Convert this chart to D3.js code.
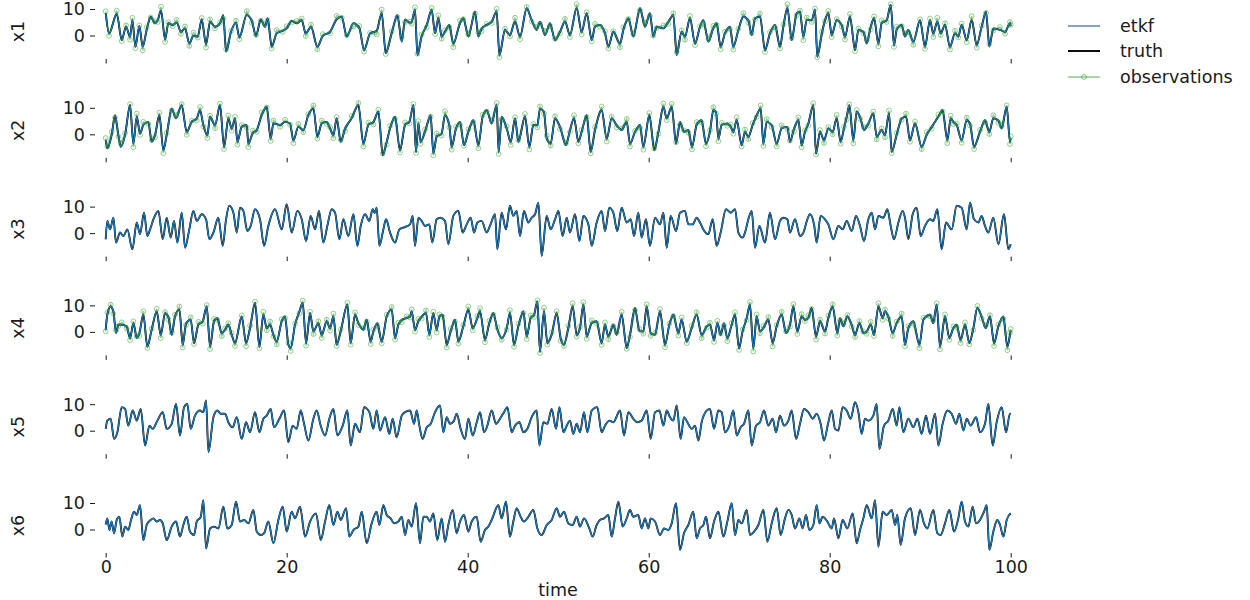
<!DOCTYPE html>
<html><head><meta charset="utf-8">
<script src="https://cdn.jsdelivr.net/npm/d3@7"></script>
<style>
body{margin:0;background:#fff}
svg{display:block}
text{font-family:"DejaVu Sans",sans-serif}
</style>
</head><body>
<svg id="chart" width="1250" height="600"></svg>
<script>
const variables = ["x1","x2","x3","x4","x5","x6"];
const observed = ["x1","x2","x4"];
const xTicks = [0,20,40,60,80,100];
const yTicks = [0,10];
const legendLabels = ["etkf","truth","observations"];
const xLabel = "time";

// observed variables: [time, truth, observation]
const x1Data = [[0,8.4,9.1],[0.37,0.8,-0.1],[1.22,8.1,9.4],[1.77,-1.7,-2.1],[2.25,3.3,3.8],[2.69,-0.4,-1.6],[2.95,5.8,6.7],[3.28,-4.2,-4.8],[3.72,3.6,3.8],[4.09,-4.2,-5.6],
[4.53,2.1,3.1],[4.97,7.1,6.8],[5.45,4.6,5.4],[5.75,5.8,5.1],[6.11,9.4,10.9],[6.56,-1.4,-2.4],[6.92,4.6,5.0],[7.40,4.0,3.5],[7.85,4.8,5.9],[8.32,1.4,0.6],
[8.77,2.7,3.4],[9.24,-3.0,-3.9],[9.69,-0.2,1.1],[10.17,-0.4,-0.8],[10.61,6.1,6.6],[11.09,-3.3,-4.5],[11.53,5.2,6.1],[12.08,3.3,2.7],[12.63,4.6,4.8],[13.0,7.7,6.3],
[13.30,-6.1,-5.1],[13.85,1.4,1.7],[14.40,4.8,5.6],[14.77,-0.7,-1.4],[15.58,7.7,9.2],[16.13,5.8,4.8],[16.61,-0.2,0.2],[17.13,6.1,5.6],[17.61,3.3,4.4],[17.90,6.5,5.7],
[18.34,-4.2,-4.9],[18.90,0.8,2.1],[19.56,1.8,1.4],[20.0,2.7,3.5],[20.55,5.6,4.9],[21.10,4.6,5.5],[21.66,5.8,6.4],[22.10,0.8,-0.2],[22.69,3.3,4.1],[23.39,-4.2,-5.2],
[23.98,-0.2,0.5],[24.79,1.4,0.9],[25.53,6.1,7.4],[26.08,7.1,6.7],[26.63,-0.4,0.1],[27.37,4.6,3.4],[28.03,2.7,3.6],[28.55,-5.5,-6.1],[29.21,0.8,1.0],[29.94,1.8,0.4],
[30.50,8.4,9.8],[30.94,-6.7,-7.0],[31.60,0.8,1.6],[32.23,7.7,7.0],[32.71,-2.3,-0.8],[33.08,6.1,5.1],[33.63,4.8,5.2],
[33.81,5.2,4.5],[34.18,9.6,10.6],[34.44,-7.4,-6.9],[34.91,-0.4,0.4],[35.47,4.0,3.1],[36.02,9.6,10.4],[36.39,0.8,0.5],[36.76,6.5,7.6],[37.12,-0.4,-1.2],[37.49,1.4,2.0],
[37.97,4.0,3.2],[38.41,-3.0,-4.4],[39.15,4.6,5.6],[39.52,6.5,6.2],[40.07,-0.4,0.4],[40.81,9.0,8.3],[41.18,-0.4,1.1],[41.54,2.7,1.7],[42.10,4.0,4.4],[42.65,5.2,4.7],
[43.20,9.0,10.1],[43.50,-7.4,-8.2],[44.12,2.1,2.5],[44.67,0.2,-0.3],[45.23,5.2,6.7],[45.78,-0.4,-1.4],[46.52,10.3,10.7],[47.07,5.8,5.3],[47.62,2.1,3.2],[47.99,5.2,4.4],
[48.54,0.2,1.7],[49.09,4.6,3.6],[49.65,-1.7,-1.3],[50.20,1.4,0.9],[50.75,5.2,6.3],[51.30,0.2,-0.6],[52.04,10.3,11.8],[52.59,1.4,0.4],[53.15,8.4,8.8],[53.70,-1.7,-2.2],
[54.07,3.3,4.4],[54.62,4.0,3.3],[55.17,0.8,1.6],[55.54,-4.2,-4.9],[56.09,1.4,1.6],[56.83,-3.0,-4.4],[57.20,2.1,3.1],[57.75,6.5,6.2],[58.30,-0.4,0.4],[59.04,10.3,9.6],
[59.59,3.3,4.8],[60.14,8.4,7.4],[60.51,-0.4,0.0],[60.88,3.3,2.8],[61.62,2.7,3.8],[62.17,5.2,4.4],[62.72,7.7,8.4],[63.09,-7.4,-6.2],[63.64,1.4,1.9],[64.01,-0.4,-1.6],
[64.56,6.5,7.4],[65.12,-3.0,-3.6],[65.67,3.3,3.5],[66.04,5.8,4.4],[66.59,-2.3,-1.3],
[67.14,2.7,3.6],[67.51,4.6,4.0],[67.95,-4.2,-5.2],[68.43,0.8,1.4],[68.98,3.3,2.4],[69.35,-4.2,-5.3],[69.91,2.1,2.5],[70.46,7.1,8.4],[71.01,5.8,4.9],[71.38,0.2,0.9],
[71.75,6.5,6.1],[72.30,7.1,8.3],[72.85,-5.5,-6.2],[73.40,0.8,1.3],[73.96,4.0,3.0],[74.51,-4.2,-4.9],[74.88,3.3,4.2],[75.32,10.3,11.8],[75.80,-1.7,-1.0],[76.35,8.4,7.6],
[76.72,9.0,9.4],[77.09,-0.4,-1.8],[77.46,5.8,6.8],[78.01,5.8,5.1],[78.38,9.6,10.2],[78.63,-8.0,-8.2],[79.11,0.2,1.4],[79.48,5.8,5.3],[79.85,8.4,9.3],[80.22,0.2,-0.6],
[80.77,5.8,6.2],[81.32,4.0,3.4],[81.69,-0.4,-1.5],[82.24,7.1,8.1],[82.80,-5.5,-5.9],[83.17,2.1,2.6],[83.72,1.4,0.9],[84.09,-3.0,-1.6],[84.53,3.3,2.3],[84.90,6.5,7.2],
[85.38,-3.0,-4.1],[85.74,4.6,5.7],[86.30,5.8,5.1],[86.74,11.5,11.8],[87.11,-3.6,-4.3],[87.40,2.1,3.3],[87.95,4.0,3.5],[88.32,-0.4,0.8],[88.69,2.1,1.2],[89.24,-2.3,-3.5],
[89.98,5.8,6.1],[90.53,-4.2,-5.0],[91.08,5.8,6.4],[91.45,0.8,-0.6],[91.89,5.2,6.7],[92.26,0.8,0.2],[92.74,4.0,4.6],[93.29,-4.2,-5.3],[93.85,0.8,1.8],[94.21,-0.4,-0.7],
[94.58,4.0,4.5],[95.14,-1.7,-2.5],[95.69,5.8,7.3],[96.24,-3.6,-4.6],[96.79,3.3,3.7],[97.27,9.0,8.5],[97.64,-4.2,-3.1],[98.08,2.7,1.9],[98.82,2.1,3.2],[99.37,1.4,0.7],
[99.92,4.6,5.1],[100,3.5,4.0]];

const x2Data = [[0,-2.2,-1.4],[0.18,-5.3,-4.6],[0.66,-0.3,0.9],[1.03,7.2,6.3],[1.40,-0.3,-0.9],[1.66,-4.7,-3.4],[2.14,-0.3,0.4],[2.69,11.0,11.4],[3.06,-3.5,-4.9],[3.43,6.6,7.8],
[3.79,0.3,-0.2],[4.16,3.5,4.7],[4.71,4.7,3.9],[5.08,-2.8,-2.1],[5.45,-0.3,-1.1],[5.93,7.2,8.2],[6.37,-6.0,-7.1],[6.74,-0.3,0.5],[7.29,9.7,9.0],[7.77,6.0,7.2],
[8.40,11.0,11.4],[8.95,0.9,-0.2],[9.50,4.7,5.1],[10.06,6.0,5.2],[10.42,9.1,10.3],[10.79,3.5,2.9],[11.23,-0.3,-1.4],[11.53,6.6,7.0],[12.08,3.5,2.3],[12.63,11.0,11.6],
[13.08,-4.7,-5.6],[13.55,6.0,7.1],[13.92,2.2,1.4],[14.29,6.0,6.6],[14.55,-2.8,-3.9],[15.03,2.8,3.5],[15.58,3.5,2.5],[15.76,-3.5,-4.8],[16.24,0.3,1.4],[16.69,1.6,0.9],
[17.24,7.2,8.3],[17.79,10.4,10.1],[18.23,-1.6,-2.5],[18.53,4.1,5.2],[19.26,3.5,2.8],[19.82,4.7,5.5],[20.37,4.1,3.6],[20.74,-2.2,-3.3],[21.29,2.8,3.9],[21.84,1.6,0.8],
[22.39,7.2,7.6],[22.95,9.7,10.9],[23.39,-0.9,-1.6],[23.87,4.1,5.2],[24.42,4.7,3.9],[24.79,2.2,2.7],[25.16,-0.3,-1.5],[25.52,6.0,6.5],[25.97,-2.8,-2.1],[26.45,2.2,1.2],
[27.18,6.0,6.9],[27.92,11.0,11.8],[28.47,-3.5,-4.6],[29.02,3.5,4.4],[29.58,4.7,3.7],[30.13,8.5,9.3],[30.61,-7.9,-7.3],[31.05,-2.8,-3.9],[31.42,2.2,3.2],[31.97,6.6,5.9],
[32.52,-6.0,-6.9],[33.08,3.5,4.5],[33.55,4.7,4.1],
[34.0,11.0,11.5],[34.29,-6.6,-7.0],[34.55,4.1,5.0],[34.80,-2.8,-3.6],[35.28,0.9,1.8],[35.91,7.2,6.6],[36.20,-7.2,-7.9],[36.57,-0.9,0.3],[37.12,0.3,-0.5],[37.49,7.2,8.7],
[37.97,3.5,2.6],[38.23,-4.7,-5.8],[38.71,2.2,2.9],[39.15,4.7,3.8],[39.59,-4.1,-4.3],[40.07,0.9,1.9],[40.62,5.3,4.6],[41.18,-4.1,-5.3],[41.65,6.6,7.4],[42.10,9.1,8.6],
[42.65,4.1,5.2],[43.20,11.0,11.8],[43.42,-6.6,-7.4],[43.75,6.6,5.7],[44.31,2.2,3.0],[44.75,-2.8,-4.0],[45.23,6.0,6.4],[45.60,-2.8,-2.2],[46.33,6.6,7.7],[46.81,-4.7,-5.7],
[47.25,3.5,3.9],[47.70,3.5,2.6],[47.99,9.7,10.5],[48.43,8.5,7.8],[48.73,-1.6,-0.4],[49.17,-3.5,-4.2],[49.65,6.0,6.8],[50.20,2.8,2.0],[50.86,-4.1,-3.4],[51.30,1.6,0.9],
[51.75,6.0,7.2],[52.23,-2.8,-3.4],[52.59,0.9,1.7],[53.15,7.2,6.5],[53.59,-6.6,-7.2],[54.07,1.6,2.7],[54.80,9.1,10.5],[55.36,-1.6,-2.7],[55.91,6.0,6.6],[56.46,3.5,2.6],
[57.01,1.6,2.2],[57.57,4.7,5.8],[57.93,-3.5,-4.6],[58.49,0.9,1.3],[59.04,3.5,2.5],[59.41,-4.7,-5.8],[60.07,7.2,8.0],[60.62,-6.0,-5.3],[61.07,0.9,0.2],[61.62,10.4,11.6],
[61.99,6.0,5.3],[62.54,10.4,11.5],[63.02,-3.5,-3.0],[63.46,4.7,3.6],[63.90,0.9,1.5],[64.38,1.6,0.6],[64.79,-4.7,-5.7],[65.30,3.5,4.6],[65.85,5.3,4.4],[66.33,-3.5,-4.5],
[66.77,0.9,1.6],
[67.14,9.1,10.2],[67.44,8.5,7.8],[67.70,-1.6,-2.6],[68.06,3.5,4.3],[68.69,4.1,3.2],[69.06,2.8,3.7],[69.35,0.9,0.2],[69.72,5.3,6.4],[70.27,-4.1,-4.6],[70.64,0.9,1.8],
[71.01,-0.9,-1.8],[71.49,3.5,4.2],[71.93,7.2,6.5],[72.37,9.7,10.9],[72.67,-3.5,-4.4],[73.04,4.7,5.7],[73.59,3.5,2.8],[74.14,-3.5,-4.6],[74.69,2.2,3.4],[75.32,2.8,2.0],
[75.61,-2.8,-2.4],[76.06,2.2,1.1],[76.54,5.3,6.4],[76.90,-4.1,-4.9],[77.27,0.9,1.5],[77.64,4.1,3.3],[78.19,11.0,11.7],[78.49,-7.2,-7.6],[78.93,0.9,1.6],[79.37,-2.2,-3.3],
[79.85,2.2,2.7],[80.33,0.9,0.0],[80.77,6.0,7.3],[81.21,-2.8,-3.5],[81.58,2.2,2.9],[81.88,6.6,5.7],[82.17,11.0,11.3],[82.61,-2.2,-3.4],[82.98,8.5,9.2],[83.35,6.6,5.9],
[83.79,1.6,2.7],[84.27,4.1,3.3],[84.82,7.9,8.6],[85.19,-0.9,-1.9],[85.74,1.6,2.2],[86.11,-0.3,-1.1],[86.55,7.9,9.0],[86.85,-6.6,-7.1],[87.40,-0.3,0.6],[87.95,6.0,5.4],
[88.43,6.6,7.8],[88.87,-2.2,-2.8],[89.43,4.1,4.8],[90.16,-4.7,-5.6],[90.72,-0.3,0.9],[91.27,2.8,2.1],[92.01,6.6,7.5],[92.48,9.1,8.6],[93.0,-2.2,-3.3],[93.37,6.0,7.0],
[93.66,4.7,3.9],[94.03,3.5,4.1],[94.58,-2.2,-3.2],[95.14,5.3,6.3],[95.50,4.1,3.3],[95.95,-4.7,-5.6],[96.61,0.9,1.7],[97.16,5.3,4.6],[97.64,0.9,0.1],[98.08,6.0,7.2],
[98.64,5.3,4.4],[99.0,2.2,3.1],[99.56,10.4,10.9],[99.92,-2.8,-3.7],[100,-1.5,-0.8]];

const x4Data = [[0,0.8,0.2],[0.18,6.5,7.4],[0.55,9.6,10.3],[0.85,7.7,6.9],[1.14,-0.4,0.7],[1.40,2.7,2.2],[1.77,2.7,3.6],[2.32,2.1,1.3],[2.69,-2.3,-3.1],[3.06,3.3,4.0],
[3.43,-2.3,-1.6],[3.72,-0.4,-1.5],[4.16,6.5,7.8],[4.60,-5.5,-6.1],[5.08,0.8,1.2],[5.64,7.7,8.7],[6.08,-1.1,-2.3],[6.56,7.1,7.5],[6.92,5.8,4.7],[7.29,-1.1,-0.3],
[7.66,5.8,6.5],[8.14,8.4,9.6],[8.51,-4.8,-5.9],[8.88,3.3,2.6],[9.39,4.6,5.5],[9.76,-4.2,-4.6],[10.24,2.7,3.8],[10.72,4.0,3.1],[11.16,9.6,10.1],[11.53,-5.5,-6.5],
[11.97,4.0,4.9],[12.34,5.2,4.5],[12.82,-0.4,-1.6],[13.19,0.8,1.3],[13.55,2.7,3.3],[13.92,-1.1,-0.4],[14.29,-4.2,-5.3],[15.03,5.8,6.2],[15.51,-4.2,-5.4],[15.95,1.4,2.4],
[16.50,10.9,11.4],[16.98,-5.5,-6.2],[17.42,6.5,7.6],[17.79,1.4,0.6],[18.16,2.7,3.9],[18.53,-1.1,-1.6],[18.90,-3.6,-4.7],[19.45,4.0,4.8],[19.82,5.8,5.2],[20.18,-4.8,-4.1],
[20.44,-6.1,-7.2],[20.92,2.7,3.2],[21.40,7.7,7.0],[21.77,10.9,11.8],[22.14,-4.2,-5.2],[22.58,7.1,7.6],[22.95,0.2,-0.8],[23.50,3.3,4.0],[23.87,-1.1,-2.3],[24.42,4.0,4.6],
[24.79,1.4,0.5],[25.16,5.8,6.9],[25.52,-4.8,-5.3],[25.97,0.2,1.0],[26.70,10.3,11.0],[27.07,-4.2,-4.8],[27.55,6.5,7.4],[27.92,3.3,2.6],[28.47,0.8,1.5],[28.84,4.6,3.9],
[29.28,-3.6,-4.6],[29.58,0.2,0.9],[30.02,3.3,2.2],[30.50,-3.6,-4.3],[31.05,5.8,6.5],[31.60,8.4,9.4],[31.97,-2.3,-2.9],[32.34,2.7,3.5],[32.71,4.6,3.7],[33.26,5.2,5.9],
[33.63,5.8,5.4],
[33.81,7.7,8.5],[34.18,0.8,0.1],[34.55,4.0,4.9],[34.91,5.8,5.0],[35.39,7.1,8.1],[35.76,-1.1,-1.9],[36.20,7.1,7.6],[36.57,0.8,-0.2],[36.87,5.8,6.6],[37.23,6.5,5.7],
[37.68,-4.8,-5.9],[38.12,0.2,1.1],[38.60,4.6,3.9],[38.97,-3.6,-4.4],[39.52,2.1,2.6],[40.07,8.4,9.6],[40.55,1.4,0.6],[41.07,5.2,6.0],[41.36,7.7,8.9],[41.91,-3.0,-3.9],
[42.39,3.3,4.2],[42.83,7.1,6.5],[43.28,0.8,1.7],[43.75,-2.3,-3.0],[44.31,1.4,0.9],[44.67,7.1,8.2],[45.12,-4.8,-5.6],[45.60,2.1,3.1],[46.15,7.7,7.2],[46.52,-1.7,-2.7],
[46.96,5.2,6.2],[47.33,6.5,5.6],[47.70,11.5,11.9],[47.99,-7.4,-8.0],[48.43,7.7,9.1],[48.80,-4.2,-4.8],[49.28,-1.1,-0.2],[49.83,7.1,7.8],[50.27,-2.3,-3.4],[50.64,-4.8,-5.3],
[51.12,1.4,2.3],[51.60,9.6,10.8],[52.04,-1.1,-1.8],[52.41,1.4,2.0],[52.78,10.3,11.2],[53.15,-1.7,-2.6],[53.70,3.3,4.3],[54.25,4.0,3.2],[54.80,-4.2,-4.9],[55.17,2.7,3.6],
[55.54,-1.7,-2.8],[56.09,2.7,2.2],[56.46,-1.1,-0.2],[57.01,6.5,7.6],[57.57,-6.1,-6.4],[57.93,-1.1,-1.9],[58.49,9.0,8.3],[58.97,0.2,1.2],[59.41,0.2,-0.7],[59.78,9.6,10.4],
[60.22,-0.4,-1.5],[60.70,-1.1,-0.4],[61.25,7.7,8.6],[61.80,-4.8,-5.8],[62.28,2.7,3.1],[62.72,6.5,6.0],[63.28,-0.4,-1.4],[63.64,4.6,5.5],[64.20,-3.6,-4.2],[64.75,1.4,2.3],
[65.30,6.5,7.4],[65.85,-1.1,-2.4],[66.41,2.1,1.6],[66.77,2.7,3.5],
[67.22,-3.0,-3.8],[67.59,3.3,4.2],[67.95,-1.1,-0.6],[68.32,3.3,2.4],[68.69,-2.3,-3.5],[69.17,2.7,3.3],[69.54,6.5,7.4],[69.98,-6.1,-6.8],[70.38,0.2,0.9],[70.83,5.2,4.5],
[71.19,10.3,11.3],[71.56,-6.1,-7.4],[71.93,5.8,6.6],[72.30,0.2,-0.5],[72.67,1.4,2.2],[73.22,4.6,5.6],[73.70,-4.2,-5.5],[74.14,2.1,2.6],[74.69,6.5,7.6],[75.17,-0.4,0.2],
[75.61,2.7,2.0],[75.98,9.6,10.5],[76.42,0.2,-0.8],[76.90,5.8,6.7],[77.27,4.6,4.1],[77.64,5.2,6.3],[78.01,9.0,8.6],[78.49,-1.7,-2.9],[78.93,4.0,4.7],[79.48,0.2,-0.6],
[79.85,5.2,6.2],[80.33,9.6,10.4],[80.84,-0.4,-1.4],[81.14,5.2,4.4],[81.51,2.1,3.2],[81.95,5.8,6.3],[82.43,2.7,2.0],[82.80,-1.1,-1.9],[83.28,3.3,4.1],[83.72,-0.4,0.1],
[84.09,0.2,-0.7],[84.53,2.7,3.8],[84.90,-1.1,-1.6],[85.38,9.6,10.8],[85.85,5.2,4.6],[86.11,7.7,8.4],[86.48,5.8,5.0],[86.96,-0.4,-1.5],[87.40,3.3,3.9],[87.95,5.8,6.9],
[88.32,-4.8,-5.4],[88.69,1.4,2.2],[89.24,4.0,3.1],[89.91,-4.8,-6.1],[90.35,4.6,5.3],[91.08,6.5,5.9],[91.45,3.3,4.4],[91.82,10.3,10.8],[92.19,-5.5,-6.6],[92.74,5.8,6.6],
[93.22,-2.3,-3.0],[93.66,1.4,2.1],[94.03,2.7,1.8],[94.47,-3.0,-4.2],[94.95,2.7,3.6],[95.43,-4.2,-4.7],[95.87,1.4,0.7],[96.31,9.0,9.8],[96.79,5.8,5.1],[97.24,1.4,2.4],
[97.71,5.8,6.3],[98.16,-4.2,-5.3],[98.64,2.1,2.8],[99.19,5.8,4.9],[99.63,-5.5,-6.9],[99.92,-1.1,-0.3],[100,0.5,1.1]];

// unobserved variables: [time, truth]
const x3Data = [[0,-2.3],[0.18,4.6],[0.48,1.4],[0.85,5.8],[1.14,-3.6],[1.58,0.2],[1.95,-1.1],[2.39,1.4],[2.95,-6.1],[3.43,4.0],[3.79,-0.4],[4.24,7.7],[4.60,-1.1],[4.90,1.4],[5.34,5.8],[5.82,8.4],[6.30,-2.3],[6.74,5.8],[7.18,-1.7],[7.55,4.6],[7.92,-3.6],[8.40,7.7],[8.77,-5.5],[9.24,1.4],[9.69,8.4],[10.06,4.6],[10.61,7.1],[11.09,5.2],[11.45,-2.3],[11.90,0.2],[12.45,5.8],[12.93,-4.8],[13.30,5.2],[13.66,10.3],[14.11,7.7],[14.48,0.2],[14.84,9.6],[15.21,8.4],[15.65,0.8],[16.02,2.7],[16.50,9.0],[17.05,5.2],[17.50,-4.8],[17.97,2.7],[18.71,9.0],[19.45,1.4],[20.0,10.9],[20.55,0.2],[21.18,8.4],[21.66,5.2],[22.14,-3.0],[22.65,6.5],[23.13,1.4],[23.57,8.4],[24.05,-3.6],[24.49,2.7],[24.97,9.0],[25.34,7.7],[25.82,-2.3],[26.26,5.2],[26.81,-1.1],[27.37,7.1],[27.81,-4.8],[28.18,2.7],[28.66,7.1],[29.13,4.6],[29.50,9.0],[29.72,7.6],[29.94,9.6],[30.24,-4.8],[30.68,1.4],[30.98,5.2],[31.42,0.2],[31.97,-3.6],[32.45,1.4],[32.89,2.1],[33.63,3.3],
[33.92,6.5],[34.18,-4.8],[34.55,5.8],[34.91,4.6],[35.28,2.7],[35.76,3.3],[36.09,-3.6],[36.57,5.2],[37.01,5.8],[37.49,4.6],[37.86,-4.2],[38.41,6.5],[38.97,8.4],[39.44,0.2],[39.89,3.3],[40.33,5.8],[40.70,0.2],[41.07,4.0],[41.54,4.6],[42.10,0.2],[42.46,2.7],[43.02,7.1],[43.27,-6.1],[43.75,7.7],[44.23,1.4],[44.67,10.3],[45.04,6.5],[45.41,8.4],[45.78,-1.1],[46.22,8.4],[46.70,4.0],[47.07,5.8],[47.44,7.1],[47.81,11.5],[48.17,-8.6],[48.73,6.5],[49.17,1.4],[49.65,5.2],[50.02,8.4],[50.49,-1.1],[50.94,5.8],[51.30,0.2],[51.86,7.1],[52.34,-3.0],[52.78,6.5],[53.33,3.3],[53.70,-4.8],[54.25,4.0],[54.80,8.4],[55.17,0.8],[55.65,9.6],[56.09,7.7],[56.53,0.8],[57.01,9.6],[57.57,4.0],[58.01,5.2],[58.38,-1.1],[58.85,7.7],[59.22,-1.7],[59.70,5.2],[60.14,-4.8],[60.70,5.8],[61.25,3.3],[61.62,7.7],[61.99,-5.5],[62.43,6.5],[63.02,0.8],[63.46,7.7],[64.01,8.4],[64.38,3.3],[64.86,3.3],[65.30,5.8],[65.67,4.0],[66.04,1.4],[66.59,-0.4],
[67.07,5.2],[67.51,-4.8],[67.95,0.2],[68.54,9.0],[69.06,7.7],[69.54,9.0],[69.91,0.2],[70.38,-1.7],[70.64,0.2],[71.01,5.2],[71.38,8.4],[71.75,-5.5],[72.23,2.7],[72.85,-3.6],[73.40,7.7],[73.96,-2.3],[74.51,4.6],[74.88,5.8],[75.32,5.2],[75.61,0.2],[76.17,5.2],[76.72,-1.1],[77.09,0.2],[77.53,5.2],[77.82,7.1],[78.27,3.3],[78.56,-3.6],[79.0,6.5],[79.48,5.2],[79.85,3.3],[80.40,-2.3],[80.96,2.7],[81.43,1.4],[81.88,4.6],[82.43,0.8],[82.91,6.5],[83.35,2.7],[83.79,-3.0],[84.27,5.2],[84.64,7.7],[85.01,1.4],[85.38,6.5],[85.93,5.8],[86.37,9.0],[86.74,2.7],[87.11,-2.3],[87.59,4.0],[88.06,8.4],[88.32,5.8],[88.69,-2.3],[89.17,7.1],[89.61,9.6],[90.05,-1.1],[90.53,2.7],[91.08,5.2],[91.45,4.6],[91.89,9.0],[92.37,-6.1],[92.85,4.0],[93.48,1.4],[94.03,10.3],[94.58,9.6],[95.14,1.4],[95.50,11.5],[95.95,5.2],[96.43,4.0],[96.79,6.5],[97.16,2.7],[97.53,0.2],[98.08,5.8],[98.64,-4.2],[99.26,7.1],[99.74,-6.1],[100,-4.2]];

const x5Data = [[0,0.7],[0.18,3.8],[0.55,4.5],[0.92,-3.1],[1.29,-0.6],[1.77,8.9],[2.14,8.2],[2.50,1.9],[2.98,7.6],[3.43,3.8],[3.87,8.2],[4.35,-5.6],[4.83,1.9],[5.19,0.7],[5.71,3.8],[6.30,7.0],[6.74,0.7],[7.29,2.6],[7.77,10.1],[8.21,-1.8],[8.66,8.9],[9.02,10.1],[9.39,0.7],[9.87,5.7],[10.42,7.6],[10.79,7.0],[11.09,11.4],[11.35,-8.1],[11.90,5.1],[12.34,7.6],[12.71,6.4],[13.19,6.4],[13.55,3.2],[14.03,1.3],[14.48,5.1],[15.03,-3.1],[15.51,3.2],[15.95,-0.6],[16.50,7.0],[16.98,-0.6],[17.42,4.5],[17.79,5.7],[18.23,8.2],[18.60,1.3],[19.19,4.5],[19.71,7.6],[20.18,-4.3],[20.66,1.9],[21.10,0.7],[21.55,7.6],[21.92,2.6],[22.39,-3.7],[22.95,4.5],[23.31,7.6],[23.76,1.9],[24.24,-1.8],[24.71,4.5],[25.16,8.2],[25.60,-1.8],[26.19,1.9],[26.70,7.6],[27.07,-5.6],[27.55,2.6],[28.10,-0.6],[28.55,8.9],[29.13,7.0],[29.58,0.7],[29.94,7.6],[30.31,0.1],[30.87,5.1],[31.34,-1.2],[31.71,4.5],[32.15,-2.5],[32.71,5.7],[33.08,7.0],[33.63,7.6],
[34.07,2.6],[34.36,7.6],[34.66,1.9],[35.02,-3.1],[35.47,1.3],[35.91,2.6],[36.39,7.0],[36.94,9.5],[37.31,-0.6],[37.68,5.1],[38.04,2.6],[38.49,3.8],[38.78,6.4],[39.22,0.7],[39.70,-3.1],[40.07,4.5],[40.55,-1.8],[41.0,3.2],[41.36,7.0],[41.80,-0.6],[42.17,1.9],[42.65,7.6],[43.13,2.6],[43.57,4.5],[44.01,7.0],[44.38,8.9],[44.86,-0.6],[45.23,1.9],[45.71,3.2],[46.15,-0.6],[46.59,0.7],[47.07,5.1],[47.62,7.6],[47.92,-5.6],[48.36,3.2],[48.80,2.6],[49.28,8.2],[49.76,0.7],[50.13,8.9],[50.57,-0.6],[50.94,1.9],[51.30,3.8],[51.67,-1.2],[52.04,2.6],[52.41,-0.6],[52.85,7.0],[53.22,-0.6],[53.70,7.6],[54.32,8.9],[54.80,-0.6],[55.17,1.9],[55.65,3.8],[56.09,3.2],[56.83,7.6],[57.27,-1.8],[57.75,7.0],[58.30,4.5],[58.74,3.2],[59.22,3.8],[59.78,7.6],[60.22,-3.1],[60.70,7.0],[61.18,7.6],[61.62,1.9],[61.99,7.6],[62.35,5.1],[62.72,3.8],[63.09,9.5],[63.53,-3.1],[63.90,5.1],[64.27,3.2],[64.75,0.7],[65.12,1.9],[65.49,-3.7],[65.85,3.2],[66.41,7.6],[66.77,8.2],
[67.22,0.7],[67.70,7.6],[68.06,7.0],[68.43,-0.6],[68.91,1.9],[69.35,7.6],[69.72,-1.8],[70.16,1.3],[70.53,2.6],[71.01,7.6],[71.38,-5.6],[71.86,1.9],[72.30,3.2],[72.74,7.6],[73.22,1.9],[73.70,4.5],[74.07,-0.6],[74.51,5.7],[74.95,1.9],[75.43,3.8],[75.80,7.6],[76.28,-3.1],[76.72,2.6],[77.16,8.2],[77.64,7.0],[78.12,4.5],[78.56,6.4],[79.0,2.6],[79.37,-3.7],[79.85,3.2],[80.22,7.6],[80.59,0.7],[80.96,0.1],[81.43,8.9],[81.88,7.6],[82.32,4.5],[82.80,10.8],[83.17,7.0],[83.53,-1.2],[83.90,4.5],[84.27,3.8],[84.82,5.7],[85.19,10.1],[85.49,-6.9],[86.0,1.9],[86.48,3.8],[86.96,8.2],[87.40,1.9],[87.70,8.9],[88.14,-0.6],[88.69,4.5],[89.24,1.3],[89.69,4.5],[90.16,-1.2],[90.64,5.7],[91.08,-1.2],[91.64,6.4],[92.01,-5.6],[92.48,2.6],[93.0,7.6],[93.48,6.4],[93.96,2.6],[94.32,6.4],[94.77,0.1],[95.14,4.5],[95.58,1.9],[96.17,5.1],[96.61,-0.6],[97.16,2.6],[97.53,10.1],[98.01,-5.6],[98.45,3.2],[99.0,8.9],[99.48,-0.6],[99.92,6.4],[100,6.4]];

const x6Data = [[0,1.9],[0.18,4.2],[0.41,-0.2],[0.66,3.0],[0.92,-1.4],[1.22,3.6],[1.51,4.8],[1.84,-2.7],[2.14,1.1],[2.50,-0.2],[2.76,3.0],[3.13,6.7],[3.43,5.5],[3.79,9.2],[4.16,-4.0],[4.53,1.7],[4.97,3.6],[5.27,4.2],[5.64,3.0],[6.0,3.6],[6.30,2.3],[6.74,-4.0],[7.29,1.1],[7.77,3.0],[8.21,-2.7],[8.58,1.7],[8.95,4.8],[9.32,-0.8],[9.76,-2.1],[10.06,3.0],[10.50,4.8],[10.79,11.1],[11.09,-7.1],[11.53,0.4],[11.97,1.1],[12.45,0.4],[13.0,8.6],[13.44,0.4],[13.92,1.7],[14.40,10.5],[14.84,3.0],[15.29,3.6],[15.76,2.3],[16.32,7.4],[16.69,-0.8],[17.13,-2.1],[17.50,-1.4],[17.97,3.0],[18.53,-5.2],[19.08,3.6],[19.56,8.6],[20.0,-0.8],[20.55,6.7],[20.92,4.2],[21.47,8.6],[22.03,-2.7],[22.58,3.0],[23.24,6.1],[23.76,-4.0],[24.24,3.0],[24.71,9.2],[25.16,1.7],[25.60,6.7],[25.97,3.6],[26.56,8.0],[26.92,-2.7],[27.37,-0.2],[27.92,1.1],[28.29,6.7],[28.84,-5.2],[29.39,2.3],[29.94,6.7],[30.24,1.7],[30.68,9.2],[31.05,5.5],[31.49,4.2],[31.86,2.3],[32.34,3.0],[32.71,4.8],[33.08,-2.1],[33.44,3.6],
[33.81,1.1],[34.29,9.9],[34.73,-5.2],[35.10,4.8],[35.47,4.8],[35.83,3.0],[36.20,6.1],[36.64,-4.0],[37.12,4.2],[37.49,-4.6],[37.86,1.7],[38.34,7.4],[38.78,-1.4],[39.15,3.0],[39.59,5.5],[40.07,-0.8],[40.44,3.0],[40.99,4.8],[41.43,-4.6],[41.91,-0.2],[42.28,1.1],[42.65,3.6],[43.39,9.2],[43.75,4.2],[44.23,10.5],[44.67,-2.7],[45.04,3.0],[45.41,8.0],[45.85,4.8],[46.22,3.0],[46.70,4.8],[47.25,7.4],[47.70,0.4],[48.17,-2.1],[48.73,1.7],[49.28,3.6],[49.83,8.0],[50.20,4.8],[50.64,6.7],[51.12,2.3],[51.60,1.7],[52.04,4.8],[52.41,1.1],[52.85,4.2],[53.44,0.4],[53.81,-2.7],[54.25,1.7],[54.62,3.6],[55.06,4.2],[55.54,5.5],[55.91,-2.7],[56.28,4.2],[56.65,10.5],[57.12,1.1],[57.57,4.2],[57.93,7.4],[58.30,4.8],[58.85,5.5],[59.22,0.4],[59.59,4.2],[59.96,0.4],[60.22,4.2],[60.70,3.0],[61.25,-2.1],[61.69,0.4],[62.17,-0.2],[62.54,2.3],[63.02,9.9],[63.46,-7.7],[63.90,-1.4],[64.38,1.7],[64.93,6.7],[65.30,-3.3],[65.67,0.4],[66.04,1.7],[66.33,4.8],[66.77,-3.3],
[67.22,3.0],[67.70,6.7],[68.25,-2.7],[68.69,3.0],[69.17,9.9],[69.54,-2.1],[69.91,3.6],[70.27,2.3],[70.83,7.4],[71.19,-2.1],[71.64,-0.8],[72.12,1.7],[72.67,7.4],[73.11,-4.6],[73.59,2.3],[74.14,8.0],[74.58,-2.1],[75.06,4.2],[75.43,7.4],[75.80,5.5],[76.17,0.4],[76.65,4.2],[77.01,0.4],[77.38,5.5],[77.75,-0.2],[78.19,1.7],[78.56,9.2],[78.86,2.3],[79.22,4.8],[79.74,3.0],[80.22,0.4],[80.48,4.2],[80.96,-3.3],[81.43,3.6],[81.95,0.4],[82.54,6.1],[82.98,-5.2],[83.35,-0.2],[83.72,4.2],[84.09,9.2],[84.64,4.2],[85.01,11.1],[85.38,-6.5],[85.85,6.7],[86.30,5.5],[86.85,7.4],[87.22,1.7],[87.47,5.5],[87.84,-5.8],[88.32,4.2],[88.95,8.0],[89.43,-2.1],[89.98,7.4],[90.42,2.3],[90.79,0.4],[91.45,7.4],[91.89,-1.4],[92.26,-2.1],[92.74,2.3],[93.22,7.4],[93.74,-0.8],[94.21,4.2],[94.58,10.5],[94.95,3.0],[95.32,1.1],[95.80,8.6],[96.17,2.3],[96.61,3.6],[97.05,6.7],[97.35,9.2],[97.64,-7.7],[98.08,-0.8],[98.52,3.6],[98.82,1.7],[99.19,-2.7],[99.56,3.6],[100,6.1]];

const seriesByVar = {x1:x1Data, x2:x2Data, x3:x3Data, x4:x4Data, x5:x5Data, x6:x6Data};
// the etkf analysis is indistinguishable from the truth at this resolution
const etkfByVar = seriesByVar;

const colors = {etkf:"#1f77b4", truth:"#000000", obs:"#2ca02c", text:"#1a1a1a"};
const FS = "17.5px";

const svg = d3.select("#chart");
const x = d3.scaleLinear().domain([0,100]).range([105.7,1010.7]);

variables.forEach((name,i) => {
  const B = 61 + 98.8*i;
  const y = d3.scaleLinear().domain([-10,12]).range([B+1, B-57.3]);
  const g = svg.append("g");

  const ya = g.append("g").attr("transform","translate(95,0)")
    .call(d3.axisLeft(y).tickValues(yTicks).tickSize(5).tickPadding(5).tickFormat(d3.format("d")));
  ya.select(".domain").remove();

  const xa = g.append("g").attr("transform",`translate(0,${B-2})`)
    .call(d3.axisBottom(x).tickValues(xTicks).tickSize(4.5).tickPadding(3.5)
      .tickFormat(i === variables.length-1 ? d3.format("d") : () => ""));
  xa.select(".domain").remove();

  [ya, xa].forEach(a => {
    a.selectAll("line").attr("stroke", colors.text).attr("stroke-width", 1);
    a.selectAll("text").attr("fill", colors.text).style("font-size",FS).style("font-family","DejaVu Sans");
  });
  ya.selectAll(".tick text").attr("dy","0.34em");

  g.append("text")
    .attr("transform",`translate(18,${B-29.5}) rotate(-90)`)
    .attr("text-anchor","middle").attr("dominant-baseline","central")
    .attr("fill", colors.text).style("font-size",FS).text(name);

  const data = seriesByVar[name];
  const smooth = d3.line().x(d => x(d[0])).y(d => y(d[1])).curve(d3.curveMonotoneX);

  if (observed.includes(name)) {
    const obsLine = d3.line().x(d => x(d[0])).y(d => y(d[2]));
    g.append("path").datum(data).attr("d", obsLine)
      .attr("fill","none").attr("stroke", colors.obs).attr("stroke-opacity",0.5).attr("stroke-width",1.6);
  }

  g.append("path").datum(data).attr("d", smooth)
    .attr("fill","none").attr("stroke", colors.truth).attr("stroke-width", 1.9).attr("stroke-linejoin","round");
  g.append("path").datum(etkfByVar[name]).attr("d", smooth)
    .attr("fill","none").attr("stroke", colors.etkf).attr("stroke-width", 1.4).attr("stroke-linejoin","round");

  if (observed.includes(name)) {
    g.append("g").selectAll("circle").data(data).join("circle")
      .attr("cx", d => x(d[0])).attr("cy", d => y(d[2])).attr("r", 2.4)
      .attr("fill","none").attr("stroke", colors.obs).attr("stroke-opacity",0.5).attr("stroke-width",1);
  }
});

svg.append("text").attr("x", 558).attr("y", 596).attr("text-anchor","middle")
  .attr("fill", colors.text).style("font-size",FS).text(xLabel);

// legend
const legendY = [26, 51, 77];
const lg = svg.append("g");
legendLabels.forEach((lab, i) => {
  const yy = legendY[i];
  const ln = lg.append("line").attr("x1",1068).attr("x2",1100).attr("y1",yy).attr("y2",yy);
  if (i === 0) ln.attr("stroke", "#2c5a8a").attr("stroke-width", 1.1);
  if (i === 1) ln.attr("stroke", colors.truth).attr("stroke-width", 1.9);
  if (i === 2) {
    ln.attr("stroke", colors.obs).attr("stroke-opacity",0.55).attr("stroke-width",1.5);
    lg.append("circle").attr("cx",1084).attr("cy",yy).attr("r",2.4)
      .attr("fill","none").attr("stroke", colors.obs).attr("stroke-opacity",0.6).attr("stroke-width",1);
  }
  lg.append("text").attr("x",1120).attr("y",yy+6).attr("fill",colors.text)
    .style("font-size",FS).text(lab);
});
</script>
</body></html>
